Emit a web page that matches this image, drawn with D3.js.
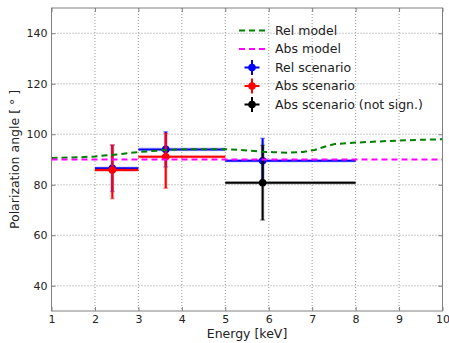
<!DOCTYPE html>
<html>
<head>
<meta charset="utf-8">
<script src="https://cdn.jsdelivr.net/npm/d3@7"></script>
<style>
  body { margin: 0; background: #fff; }
  text { font-family: "DejaVu Sans", sans-serif; }
</style>
</head>
<body>
<svg id="chart" width="449" height="343"></svg>
<script>
// Model curves
var relModelX = [1.0, 1.67, 2.0, 2.5, 2.97, 3.5, 3.96, 4.5, 5.0, 5.5, 5.86, 6.1, 6.41, 6.79, 7.06, 7.33, 7.52, 8.02, 8.71, 9.47, 10.0];
var relModelY = [90.6, 90.9, 91.2, 92.0, 92.9, 93.6, 94.0, 94.1, 94.1, 93.6, 93.1, 92.9, 92.7, 93.0, 93.8, 95.3, 96.1, 96.7, 97.3, 97.8, 98.0];
var absModelX = [1.0, 10.0];
var absModelY = [90.0, 90.0];

// Scenario points: x, x range, y, y range
var relX = [2.4, 3.63, 5.86], relXlo = [2, 3, 5], relXhi = [3, 5, 8];
var relY = [86.5, 94.0, 89.5], relYlo = [77.3, 87.0, 80.5], relYhi = [95.7, 101.0, 98.4];
var absX = [2.4, 3.63], absXlo = [2, 3], absXhi = [3, 5];
var absY = [85.8, 91.1], absYlo = [74.5, 78.6], absYhi = [95.8, 100.4];
var nsX = [5.86], nsXlo = [5], nsXhi = [8];
var nsY = [80.8], nsYlo = [66.0], nsYhi = [95.6];

var xTicks = [1, 2, 3, 4, 5, 6, 7, 8, 9, 10];
var yTicks = [40, 60, 80, 100, 120, 140];

var svg = d3.select("#chart"),
    margin = { top: 8, right: 6.5, bottom: 32, left: 51.5 },
    width = +svg.attr("width") - margin.left - margin.right,
    height = +svg.attr("height") - margin.top - margin.bottom,
    g = svg.append("g").attr("transform", "translate(" + margin.left + "," + margin.top + ")");

var x = d3.scaleLinear().domain([1, 10]).range([0, width]);
var y = d3.scaleLinear().domain([30, 150]).range([height, 0]);

// Grid
g.append("g").selectAll("line").data(xTicks).enter().append("line")
    .attr("x1", function (d) { return x(d); }).attr("x2", function (d) { return x(d); })
    .attr("y1", 0).attr("y2", height)
    .attr("stroke", "#999").attr("stroke-dasharray", "1,2");
g.append("g").selectAll("line").data(yTicks).enter().append("line")
    .attr("y1", function (d) { return y(d); }).attr("y2", function (d) { return y(d); })
    .attr("x1", 0).attr("x2", width)
    .attr("stroke", "#999").attr("stroke-dasharray", "1,2");

// Error bars
function errorbars(X, Xlo, Xhi, Y, Ylo, Yhi, color) {
    var eg = g.append("g");
    var data = X.map(function (d, i) { return { x: d, xl: Xlo[i], xh: Xhi[i], y: Y[i], yl: Ylo[i], yh: Yhi[i] }; });
    var item = eg.selectAll("g").data(data).enter().append("g");
    [[3.6, 0.2], [2, 1]].forEach(function (s) {
        item.append("line")
            .attr("x1", function (d) { return x(d.xl); }).attr("x2", function (d) { return x(d.xh); })
            .attr("y1", function (d) { return y(d.y); }).attr("y2", function (d) { return y(d.y); })
            .attr("stroke", color).attr("stroke-width", s[0]).attr("stroke-opacity", s[1]);
        item.append("line")
            .attr("x1", function (d) { return x(d.x); }).attr("x2", function (d) { return x(d.x); })
            .attr("y1", function (d) { return y(d.yl); }).attr("y2", function (d) { return y(d.yh); })
            .attr("stroke", color).attr("stroke-width", s[0]).attr("stroke-opacity", s[1]);
    });
    ["yl", "yh"].forEach(function (k) {
        item.append("line")
            .attr("x1", function (d) { return x(d.x) - 2.5; }).attr("x2", function (d) { return x(d.x) + 2.5; })
            .attr("y1", function (d) { return y(d[k]); }).attr("y2", function (d) { return y(d[k]); })
            .attr("stroke", color).attr("stroke-width", 1.5).attr("stroke-opacity", 0.35);
    });
    item.append("circle")
        .attr("cx", function (d) { return x(d.x); }).attr("cy", function (d) { return y(d.y); })
        .attr("r", 3.8).attr("fill", color);
}
errorbars(relX, relXlo, relXhi, relY, relYlo, relYhi, "#0000ff");
errorbars(absX, absXlo, absXhi, absY, absYlo, absYhi, "#ff0000");
errorbars(nsX, nsXlo, nsXhi, nsY, nsYlo, nsYhi, "#000000");

// Model lines
var line = d3.line().x(function (d) { return x(d[0]); }).y(function (d) { return y(d[1]); });
g.append("path")
    .datum(relModelX.map(function (d, i) { return [d, relModelY[i]]; }))
    .attr("d", line).attr("fill", "none")
    .attr("stroke", "#008000").attr("stroke-width", 2).attr("stroke-dasharray", "6,4");
g.append("path")
    .datum(absModelX.map(function (d, i) { return [d, absModelY[i]]; }))
    .attr("d", line).attr("fill", "none")
    .attr("stroke", "#ff00ff").attr("stroke-width", 2).attr("stroke-dasharray", "6,4");

// Frame
g.append("rect").attr("width", width).attr("height", height)
    .attr("fill", "none").attr("stroke", "#808080").attr("stroke-width", 1);

// Axes
g.append("g").attr("transform", "translate(0," + height + ")")
    .call(d3.axisBottom(x).tickValues(xTicks).tickFormat(d3.format("d")).tickSize(-4).tickPadding(4));
g.append("g")
    .call(d3.axisLeft(y).tickValues(yTicks).tickFormat(d3.format("d")).tickSize(-4).tickPadding(4));
g.append("g").call(d3.axisTop(x).tickValues(xTicks).tickSize(-4).tickFormat(""));
g.append("g").attr("transform", "translate(" + width + ",0)")
    .call(d3.axisRight(y).tickValues(yTicks).tickSize(-4).tickFormat(""));

g.selectAll(".domain").remove();
g.selectAll(".tick line").attr("stroke", "#808080");
g.selectAll(".tick text").attr("fill", "#222").attr("font-size", 11)
    .attr("font-family", "DejaVu Sans, sans-serif");

// Axis labels
svg.append("text")
    .attr("x", margin.left + width / 2).attr("y", 338)
    .attr("text-anchor", "middle").attr("font-size", 12.5).attr("fill", "#222")
    .text("Energy [keV]");
svg.append("text")
    .attr("transform", "translate(19," + (margin.top + height / 2) + ") rotate(-90)")
    .attr("text-anchor", "middle").attr("font-size", 12.5).attr("fill", "#222")
    .text("Polarization angle [ \u00b0 ]");

// Legend
var legendItems = [
    { label: "Rel model", color: "#008000", type: "line" },
    { label: "Abs model", color: "#ff00ff", type: "line" },
    { label: "Rel scenario", color: "#0000ff", type: "err" },
    { label: "Abs scenario", color: "#ff0000", type: "err" },
    { label: "Abs scenario (not sign.)", color: "#000000", type: "err" }
];
var legend = svg.append("g").selectAll("g").data(legendItems).enter().append("g")
    .attr("transform", function (d, i) { return "translate(0," + (30.5 + i * 18.5) + ")"; });
legend.filter(function (d) { return d.type === "line"; }).append("line")
    .attr("x1", 239).attr("x2", 265).attr("y1", 0).attr("y2", 0)
    .attr("stroke", function (d) { return d.color; }).attr("stroke-width", 2).attr("stroke-dasharray", "6,4");
var errLeg = legend.filter(function (d) { return d.type === "err"; });
errLeg.append("line").attr("x1", 244.5).attr("x2", 259.5).attr("y1", 0).attr("y2", 0)
    .attr("stroke", function (d) { return d.color; }).attr("stroke-width", 2);
errLeg.append("line").attr("x1", 252).attr("x2", 252).attr("y1", -7.5).attr("y2", 7.5)
    .attr("stroke", function (d) { return d.color; }).attr("stroke-width", 2);
errLeg.append("circle").attr("cx", 252).attr("cy", 0).attr("r", 3.8)
    .attr("fill", function (d) { return d.color; });
legend.append("text").attr("x", 275).attr("y", 0).attr("dy", "0.35em")
    .attr("font-size", 12.5).attr("fill", "#222")
    .text(function (d) { return d.label; });
</script>
</body>
</html>
